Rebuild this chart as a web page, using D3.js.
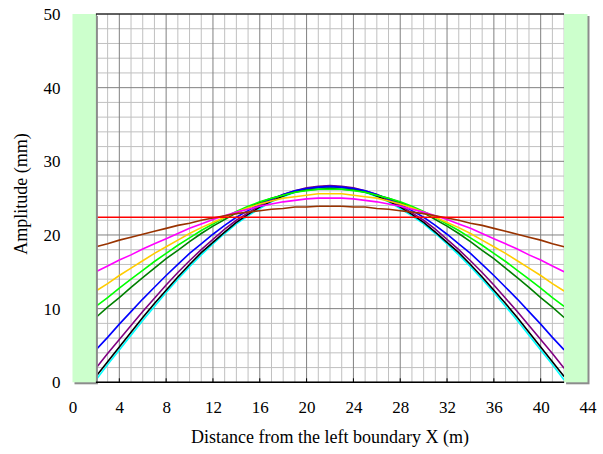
<!DOCTYPE html>
<html lang="en">
<head>
    <meta charset="UTF-8">
    <title>Amplitude vs distance</title>
    <script src="https://d3js.org/d3.v7.min.js"></script>
    <style>
        body {
            margin: 0;
            background: #fff;
        }

        text {
            font-family: "Liberation Serif", "Times New Roman", serif;
            fill: #000;
        }

        .title {
            font-size: 18px;
        }

        .grid-minor {
            stroke: #c0c0c0;
            stroke-width: 1px;
        }

        .grid-major {
            stroke: #808080;
            stroke-width: 1px;
        }

        .curve {
            fill: none;
            stroke-width: 1.6px;
        }
    </style>
</head>
<body>

<div id="chart"></div>

<script>
    // x positions of the readings (m)
    const xs = [2, 3, 4, 5, 6, 7, 8, 9, 10, 11, 12, 13, 14, 15, 16, 17, 18, 19, 20, 21, 22,
        23, 24, 25, 26, 27, 28, 29, 30, 31, 32, 33, 34, 35, 36, 37, 38, 39, 40, 41, 42];

    const xTicks = [0, 4, 8, 12, 16, 20, 24, 28, 32, 36, 40, 44];
    const yTicks = [0, 10, 20, 30, 40, 50];

    // amplitudes (mm), one array per curve
    const cyanVals = [0.3, 2.4, 4.4, 6.4, 8.4, 10.3, 12.2, 14.0, 15.7, 17.3, 18.8, 20.2, 21.5, 22.6, 23.6, 24.5, 25.2, 25.8, 26.2, 26.4, 26.5,
        26.4, 26.2, 25.8, 25.2, 24.5, 23.6, 22.6, 21.5, 20.2, 18.8, 17.3, 15.7, 14.0, 12.2, 10.3, 8.4, 6.4, 4.4, 2.4, 0.3];
    const blackVals = [0.8, 2.8, 4.8, 6.8, 8.8, 10.7, 12.5, 14.3, 16.0, 17.6, 19.0, 20.4, 21.7, 22.8, 23.8, 24.6, 25.3, 25.9, 26.3, 26.5, 26.6,
        26.5, 26.3, 25.9, 25.3, 24.6, 23.8, 22.8, 21.7, 20.4, 19.0, 17.6, 16.0, 14.3, 12.5, 10.7, 8.8, 6.8, 4.8, 2.8, 0.8];
    const purpleVals = [1.9, 3.9, 5.8, 7.7, 9.6, 11.4, 13.2, 14.9, 16.5, 18.0, 19.4, 20.8, 22.0, 23.0, 24.0, 24.8, 25.5, 26.0, 26.4, 26.6, 26.7,
        26.6, 26.4, 26.0, 25.5, 24.8, 24.0, 23.0, 22.0, 20.8, 19.4, 18.0, 16.5, 14.9, 13.2, 11.4, 9.6, 7.7, 5.8, 3.9, 1.9];
    const blueVals = [4.4, 6.1, 7.9, 9.6, 11.3, 12.9, 14.5, 16.0, 17.5, 18.8, 20.1, 21.3, 22.4, 23.3, 24.2, 24.9, 25.5, 26.0, 26.3, 26.5, 26.6,
        26.5, 26.3, 26.0, 25.5, 24.9, 24.2, 23.3, 22.4, 21.3, 20.1, 18.8, 17.5, 16.0, 14.5, 12.9, 11.3, 9.6, 7.9, 6.1, 4.4];
    const darkGreenVals = [8.8, 10.2, 11.5, 12.9, 14.2, 15.5, 16.8, 17.9, 19.1, 20.2, 21.2, 22.1, 23.0, 23.7, 24.4, 25.0, 25.4, 25.8, 26.1, 26.2, 26.3,
        26.2, 26.1, 25.8, 25.4, 25.0, 24.4, 23.7, 23.0, 22.1, 21.2, 20.2, 19.1, 17.9, 16.8, 15.5, 14.2, 12.9, 11.5, 10.2, 8.8];
    const limeVals = [10.3, 11.5, 12.8, 14.0, 15.2, 16.4, 17.5, 18.6, 19.6, 20.6, 21.5, 22.4, 23.2, 23.9, 24.5, 25.0, 25.4, 25.8, 26.0, 26.2, 26.2,
        26.2, 26.0, 25.8, 25.4, 25.0, 24.5, 23.9, 23.2, 22.4, 21.5, 20.6, 19.6, 18.6, 17.5, 16.4, 15.2, 14.0, 12.8, 11.5, 10.3];
    const goldVals = [12.4, 13.4, 14.5, 15.5, 16.5, 17.5, 18.4, 19.3, 20.2, 21.0, 21.7, 22.4, 23.1, 23.7, 24.2, 24.6, 25.0, 25.2, 25.4, 25.6, 25.6,
        25.6, 25.4, 25.2, 25.0, 24.6, 24.2, 23.7, 23.1, 22.4, 21.7, 21.0, 20.2, 19.3, 18.4, 17.5, 16.5, 15.5, 14.5, 13.4, 12.4];
    const magentaVals = [15.0, 15.8, 16.6, 17.3, 18.1, 18.8, 19.5, 20.2, 20.9, 21.5, 22.1, 22.6, 23.1, 23.5, 23.9, 24.2, 24.5, 24.7, 24.9, 25.0, 25.0,
        25.0, 24.9, 24.7, 24.5, 24.2, 23.9, 23.5, 23.1, 22.6, 22.1, 21.5, 20.9, 20.2, 19.5, 18.8, 18.1, 17.3, 16.6, 15.8, 15.0];
    const brownVals = [18.4, 18.8, 19.3, 19.7, 20.1, 20.5, 20.9, 21.3, 21.6, 22.0, 22.3, 22.6, 22.9, 23.1, 23.3, 23.5, 23.6, 23.8, 23.8, 23.9, 23.9,
        23.9, 23.8, 23.8, 23.6, 23.5, 23.3, 23.1, 22.9, 22.6, 22.3, 22.0, 21.6, 21.3, 20.9, 20.5, 20.1, 19.7, 19.3, 18.8, 18.4];
    const redVals = [22.4, 22.4, 22.4, 22.4, 22.4, 22.4, 22.4, 22.4, 22.4, 22.4, 22.4, 22.4, 22.4, 22.4, 22.4, 22.4, 22.4, 22.4, 22.4, 22.4, 22.4,
        22.4, 22.4, 22.4, 22.4, 22.4, 22.4, 22.4, 22.4, 22.4, 22.4, 22.4, 22.4, 22.4, 22.4, 22.4, 22.4, 22.4, 22.4, 22.4, 22.4];

    // drawing order: first is painted at the bottom
    const seriesList = [cyanVals, blackVals, purpleVals, blueVals, darkGreenVals, limeVals, goldVals, magentaVals, brownVals, redVals];
    const seriesColors = ["#00ffff", "#000000", "#800080", "#0000ff", "#008000", "#00ff00", "#ffcc00", "#ff00ff", "#993300", "#ff0000"];

    // the shaded boundary zones (m)
    const boundaryZones = [[0, 2], [42, 44]];

    const width = 603;
    const height = 454;

    const x = d3.scaleLinear().domain([0, 44]).range([72.5, 587.5]);
    const y = d3.scaleLinear().domain([0, 50]).range([382.3, 14]);

    const svg = d3.select("#chart").append("svg")
        .attr("width", width)
        .attr("height", height);

    // grid: 1 m vertical, 2 mm horizontal
    const grid = svg.append("g");
    grid.selectAll(".v")
        .data(d3.range(2, 43))
        .enter().append("line")
        .attr("class", d => d % 4 === 0 ? "grid-major" : "grid-minor")
        .attr("x1", d => x(d)).attr("x2", d => x(d))
        .attr("y1", y(0)).attr("y2", y(50));
    grid.selectAll(".h")
        .data(d3.range(0, 51, 2))
        .enter().append("line")
        .attr("class", d => d % 10 === 0 ? "grid-major" : "grid-minor")
        .attr("x1", x(2)).attr("x2", x(42))
        .attr("y1", d => y(d)).attr("y2", d => y(d));
    // keep major lines on top of minor ones
    grid.selectAll(".grid-major").raise();

    // frame of the plot area
    svg.append("line")
        .attr("x1", x(2)).attr("x2", x(42))
        .attr("y1", y(50)).attr("y2", y(50))
        .attr("stroke", "#000");
    svg.append("line")
        .attr("x1", x(2)).attr("x2", x(2))
        .attr("y1", y(0)).attr("y2", y(50))
        .attr("stroke", "#000");

    // curves
    const line = d3.line()
        .x((d, i) => x(xs[i]))
        .y(d => y(d));

    svg.append("g")
        .selectAll("path")
        .data(seriesList)
        .enter().append("path")
        .attr("class", "curve")
        .attr("stroke", (d, i) => seriesColors[i])
        .attr("d", line);

    // boundary zones with a small drop shadow
    const zones = svg.append("g");
    zones.selectAll(".shadow")
        .data(boundaryZones)
        .enter().append("rect")
        .attr("x", d => x(d[0]) + 2)
        .attr("y", y(50) + 2)
        .attr("width", d => x(d[1]) - x(d[0]))
        .attr("height", y(0) - y(50))
        .attr("fill", "#8c8c8c");
    zones.selectAll(".zone")
        .data(boundaryZones)
        .enter().append("rect")
        .attr("x", d => x(d[0]))
        .attr("y", y(50))
        .attr("width", d => x(d[1]) - x(d[0]))
        .attr("height", y(0) - y(50))
        .attr("fill", "#ccffcc");

    // bottom axis line and inward ticks
    svg.append("line")
        .attr("x1", x(2)).attr("x2", x(42))
        .attr("y1", y(0)).attr("y2", y(0))
        .attr("stroke", "#000")
        .attr("stroke-width", 1.5);
    svg.append("g")
        .selectAll("line")
        .data(xTicks.filter(d => d > 2 && d < 42))
        .enter().append("line")
        .attr("x1", d => x(d)).attr("x2", d => x(d))
        .attr("y1", y(0)).attr("y2", y(0) - 4)
        .attr("stroke", "#000");

    // tick labels through d3 axes
    const xAxis = svg.append("g")
        .attr("transform", `translate(0,${y(0)})`)
        .call(d3.axisBottom(x).tickValues(xTicks).tickSize(0).tickPadding(19));
    const yAxis = svg.append("g")
        .attr("transform", `translate(${x(0)},0)`)
        .call(d3.axisLeft(y).tickValues(yTicks).tickSize(0).tickPadding(12));

    [xAxis, yAxis].forEach(a => {
        a.select(".domain").remove();
        a.selectAll("text")
            .attr("font-family", "Liberation Serif, Times New Roman, serif")
            .attr("font-size", 17)
            .attr("fill", "#000");
    });

    // axis titles
    svg.append("text")
        .attr("class", "title")
        .attr("x", 330)
        .attr("y", 443)
        .attr("text-anchor", "middle")
        .text("Distance from the left boundary X (m)");

    svg.append("text")
        .attr("class", "title")
        .attr("transform", "translate(27,194) rotate(-90)")
        .attr("text-anchor", "middle")
        .text("Amplitude (mm)");
</script>

</body>
</html>
